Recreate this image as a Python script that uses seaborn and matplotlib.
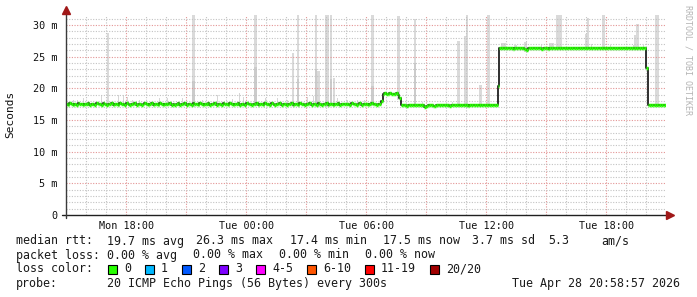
import numpy as np
import pandas as pd
import matplotlib
matplotlib.use("Agg")
import matplotlib.pyplot as plt
import seaborn as sns
from matplotlib.patches import Rectangle

# ---------------- data ----------------
first_sample_h = 14.983          # Mon 14:59 (hours since Mon 00:00)
sample_step_h = 5.0 / 60.0       # 300 s

median_ms = [
    # Mon 15:00 .. Tue 06:45  (~17.5 ms, wiggly)
    17.6, 17.4, 17.7, 17.5, 17.3, 17.6, 17.4, 17.7, 17.5, 17.6, 17.3, 17.6,
    17.5, 17.7, 17.4, 17.6, 17.5, 17.3, 17.7, 17.5, 17.6, 17.4, 17.7, 17.5,
    17.4, 17.6, 17.5, 17.7, 17.3, 17.6, 17.5, 17.4, 17.7, 17.5, 17.6, 17.4,
    17.7, 17.5, 17.3, 17.6, 17.5, 17.7, 17.4, 17.6, 17.5, 17.3, 17.6, 17.7,
    17.5, 17.4, 17.6, 17.7, 17.4, 17.5, 17.6, 17.3, 17.7, 17.5, 17.4, 17.6,
    17.6, 17.5, 17.7, 17.4, 17.6, 17.3, 17.5, 17.7, 17.4, 17.6, 17.5, 17.7,
    17.4, 17.6, 17.5, 17.3, 17.7, 17.5, 17.6, 17.4, 17.7, 17.5, 17.3, 17.6,
    17.5, 17.7, 17.4, 17.6, 17.5, 17.7, 17.3, 17.6, 17.5, 17.4, 17.7, 17.5,
    17.6, 17.4, 17.7, 17.5, 17.3, 17.6, 17.5, 17.7, 17.4, 17.6, 17.5, 17.3,
    17.7, 17.5, 17.6, 17.4, 17.6, 17.5, 17.7, 17.3, 17.6, 17.5, 17.4, 17.7,
    17.5, 17.6, 17.4, 17.7, 17.5, 17.3, 17.6, 17.5, 17.7, 17.4, 17.6, 17.5,
    17.3, 17.6, 17.5, 17.7, 17.4, 17.6, 17.5, 17.3, 17.7, 17.5, 17.6, 17.4,
    17.6, 17.5, 17.7, 17.4, 17.5, 17.6, 17.3, 17.7, 17.5, 17.4, 17.6, 17.5,
    17.7, 17.4, 17.6, 17.5, 17.3, 17.6, 17.5, 17.7, 17.4, 17.6, 17.5, 17.6,
    17.5, 17.6, 17.4, 17.7, 17.5, 17.6, 17.3, 17.5, 17.7, 17.4, 17.6, 17.5,
    17.6, 17.4, 17.5, 17.7, 17.5, 17.6, 17.4, 17.5, 17.5,
    # step up
    18.0,
    19.1, 19.2, 19.1, 19.1, 19.2, 19.1, 19.1, 19.1, 19.2, 19.0,
    18.5,
    # Tue 07:45 .. 12:30 (~17.3 ms)
    17.3, 17.3, 17.3, 17.2, 17.3, 17.3, 17.3, 17.3, 17.3, 17.3, 17.3, 17.3,
    17.3, 17.3, 17.1, 17.2, 17.3, 17.3, 17.3, 17.2, 17.2, 17.3, 17.3, 17.3,
    17.3, 17.3, 17.3, 17.3, 17.3, 17.2, 17.3, 17.3, 17.3, 17.3, 17.3, 17.3,
    17.3, 17.3, 17.3, 17.3, 17.2, 17.3, 17.3, 17.3, 17.3, 17.3, 17.3, 17.3,
    17.3, 17.3, 17.3, 17.3, 17.3, 17.3, 17.3, 17.3, 17.3, 17.3,
    20.4,
    # Tue 12:35 .. 19:55 (~26.3 ms)
    26.3, 26.3, 26.3, 26.3, 26.3, 26.3, 26.3, 26.3, 26.2, 26.3, 26.3, 26.3,
    26.3, 26.3, 26.3, 26.2, 26.1, 26.3, 26.3, 26.3, 26.3, 26.3, 26.3, 26.3,
    26.3, 26.2, 26.3, 26.3, 26.3, 26.2, 26.3, 26.3, 26.3, 26.3, 26.3, 26.3,
    26.3, 26.3, 26.3, 26.3, 26.3, 26.3, 26.3, 26.3, 26.3, 26.3, 26.3, 26.3,
    26.3, 26.3, 26.3, 26.3, 26.3, 26.3, 26.3, 26.3, 26.3, 26.3, 26.3, 26.3,
    26.3, 26.3, 26.3, 26.3, 26.3, 26.3, 26.3, 26.3, 26.3, 26.3, 26.3, 26.3,
    26.3, 26.3, 26.3, 26.3, 26.3, 26.3, 26.3, 26.3, 26.3, 26.3, 26.3, 26.3,
    26.3, 26.3, 26.3, 26.3,
    23.2,
    # Tue 20:05 .. 21:00 (~17.4 ms)
    17.4, 17.4, 17.4, 17.4, 17.4, 17.4, 17.4, 17.4, 17.4, 17.4, 17.4,
]

# tall smoke (ping spread), start hour, end hour, top (ms)
smoke_start = [17.05, 21.30, 24.40, 26.30, 26.55, 27.45, 27.55, 27.95, 28.20, 28.35,
               30.25, 31.55, 32.40, 34.55, 34.90, 35.00, 35.65, 36.05, 36.75, 37.40,
               37.90, 39.15, 39.50, 40.95, 41.05, 41.80, 43.40, 43.50, 44.45]
smoke_end = [17.15, 21.45, 24.55, 26.40, 26.65, 27.55, 27.70, 28.15, 28.30, 28.45,
             30.40, 31.70, 32.50, 34.70, 35.00, 35.10, 35.80, 36.20, 37.00, 37.55,
             38.05, 39.40, 39.80, 41.05, 41.15, 41.95, 43.50, 43.65, 44.65]
smoke_top = [28.7, 31.6, 31.6, 25.6, 31.6, 31.6, 22.7, 31.6, 31.6, 21.6,
             31.6, 31.5, 31.0, 27.4, 28.3, 31.6, 20.5, 31.6, 27.2, 26.8,
             27.3, 27.1, 31.6, 28.6, 31.1, 31.6, 28.5, 30.2, 31.6]

# denser core of the smoke
core_start = [21.30, 24.40, 26.55, 27.45, 28.20, 30.25, 32.40]
core_end = [21.45, 24.55, 26.65, 27.55, 28.30, 30.40, 32.50]
core_top = [21.2, 23.4, 21.5, 23.0, 21.5, 20.4, 24.0]

# small smoke bumps just above the median (centre hour, top ms)
bump_h = [15.35, 15.55, 15.85, 16.75, 17.60, 17.85, 18.05, 18.30, 18.65, 19.65,
          20.05, 20.80, 21.80, 22.55, 23.30, 23.65, 23.85, 24.95, 25.55, 26.05,
          27.05, 27.35, 28.55, 29.05, 29.55, 29.90, 32.80, 34.30, 38.75, 40.10,
          41.25, 42.20, 43.35, 43.85]
bump_top = [18.2, 18.2, 18.4, 19.0, 18.9, 18.9, 18.6, 18.2, 18.2, 18.4,
            18.5, 18.4, 18.2, 19.0, 18.3, 19.2, 18.6, 18.4, 18.4, 18.2,
            18.7, 18.8, 18.5, 18.2, 18.2, 18.2, 17.9, 17.9, 26.9, 26.6,
            27.0, 26.9, 26.9, 26.9]

y_ticks = [0, 5, 10, 15, 20, 25, 30]
y_tick_labels = ["0", "5 m", "10 m", "15 m", "20 m", "25 m", "30 m"]
x_ticks = [18, 24, 30, 36, 42]
x_tick_labels = ["Mon 18:00", "Tue 00:00", "Tue 06:00", "Tue 12:00", "Tue 18:00"]

loss_labels = ["0", "1", "2", "3", "4-5", "6-10", "11-19", "20/20"]
loss_colors = ["#26ff00", "#00b8ff", "#0059ff", "#7e00ff", "#ff00ff",
               "#ff5500", "#ff0000", "#a10000"]

rtt_row = ["19.7 ms avg", "26.3 ms max", "17.4 ms min", "17.5 ms now",
           "3.7 ms sd", "5.3", "am/s"]
loss_row = ["0.00 % avg", "0.00 % max", "0.00 % min", "0.00 % now"]
probe_text = "20 ICMP Echo Pings (56 Bytes) every 300s"
stamp_text = "Tue Apr 28 20:58:57 2026"

# ---------------- figure ----------------
sns.set_style("white")
plt.rcParams["font.family"] = ["DejaVu Sans Mono", "DejaVu Sans"]

W, H = 697, 297
fig = plt.figure(figsize=(W / 100, H / 100), dpi=100)
fig.patch.set_facecolor("white")
ax_left, ax_right, ax_top, ax_bot = 66, 666, 15, 215
ax = fig.add_axes([ax_left / W, 1 - ax_bot / H, (ax_right - ax_left) / W,
                   (ax_bot - ax_top) / H])
ax.set_facecolor("white")

xmin = first_sample_h
xmax = first_sample_h + 30.0
ymax = 31.58
ax.set_xlim(xmin, xmax)
ax.set_ylim(0, ymax)

med = np.array(median_ms)
t = first_sample_h + sample_step_h * np.arange(len(med))


def med_at(h):
    i = int(np.clip(np.floor((h - first_sample_h) / sample_step_h), 0, len(med) - 1))
    return med[i]


# smoke
s0 = np.array(smoke_start)
s1 = np.array(smoke_end)
bots = np.array([min(med_at(a), med_at(b - 1e-3)) - 0.3 for a, b in zip(s0, s1)])
ax.bar(s0, np.array(smoke_top) - bots, width=s1 - s0, bottom=bots, align="edge",
       color="#dadada", linewidth=0, zorder=2)
c0 = np.array(core_start)
c1 = np.array(core_end)
cb = np.array([med_at(a) - 0.3 for a in c0])
ax.bar(c0, np.array(core_top) - cb, width=c1 - c0, bottom=cb, align="edge",
       color="#cbcbcb", linewidth=0, zorder=2.1)
bh = np.array(bump_h)
bb = np.array([med_at(h) - 0.3 for h in bh])
ax.bar(bh - sample_step_h / 2, np.array(bump_top) - bb, width=sample_step_h,
       bottom=bb, align="edge", color="#d6d6d6", linewidth=0, zorder=2)

# grid
minor_col, major_col = "#c2c2c2", "#e39494"
dash = (0, (1.0, 1.4))
for h in range(16, 45):
    ax.axvline(h, color=major_col if h % 3 == 0 else minor_col, lw=0.8,
               ls=dash, zorder=3)
for v in range(1, 32):
    ax.axhline(v, color=major_col if v % 5 == 0 else minor_col, lw=0.8,
               ls=dash, zorder=3)

# median: dark step line + green (0 % loss) segments
df = pd.DataFrame({"h": np.append(t, t[-1] + sample_step_h),
                   "ms": np.append(med, med[-1])})
sns.lineplot(data=df, x="h", y="ms", drawstyle="steps-post", color="#202020",
             lw=1.3, estimator=None, ax=ax, zorder=4)
ax.hlines(med, t, t + sample_step_h, color=loss_colors[0], lw=2.5,
          zorder=5, capstyle="butt")

# axes
for sp in ax.spines.values():
    sp.set_visible(False)
ax.plot([xmin - 0.2, xmax + 0.25], [0, 0], color="#202020", lw=1.0,
        clip_on=False, zorder=6)
ax.plot([xmin, xmin], [-0.4, ymax + 0.6], color="#3a3a3a", lw=1.0,
        clip_on=False, zorder=6)
ax.plot([xmin], [ymax + 0.75], marker="^", ms=5.5, color="#a01818",
        clip_on=False, zorder=7, mec="#a01818")
ax.plot([xmax + 0.2], [0], marker=">", ms=5.5, color="#a01818",
        clip_on=False, zorder=7, mec="#a01818")

ax.set_yticks(y_ticks)
ax.set_yticklabels(y_tick_labels)
ax.set_xticks(x_ticks)
ax.set_xticklabels(x_tick_labels)
ax.tick_params(axis="y", length=0, pad=6, labelsize=7.3, labelcolor="#111111")
ax.tick_params(axis="x", length=0, pad=4.5, labelsize=7.3, labelcolor="#111111")
ax.set_xlabel("")
ax.set_ylabel("")
ax.grid(False)

fig.text(10 / W, 1 - 114 / H, "Seconds", rotation=90, ha="center", va="center",
         fontsize=8.0, color="#111111")
fig.text(688 / W, 1 - 60 / H, "RRDTOOL / TOBI OETIKER", rotation=270,
         ha="center", va="center", fontsize=6.0, color="#b4b4b4")


def ftext(x, y, s, **kw):
    fig.text(x / W, 1 - y / H, s, va="center", fontsize=8.4, color="#1a1a1a", **kw)


cw = 7.0
ftext(16, 241, "median rtt:")
for s, x in zip(rtt_row, [107, 196, 290, 383, 472, 548, 601]):
    ftext(x, 241, s)
ftext(16, 255, "packet loss:")
for s, x in zip(loss_row, [107, 193, 279, 365]):
    ftext(x, 255, s)
ftext(16, 269, "loss color:")
bx = 108
for lab, col in zip(loss_labels, loss_colors):
    fig.patches.append(Rectangle((bx / W, 1 - 273.5 / H), 8.5 / W, 8.5 / H,
                                 transform=fig.transFigure, facecolor=col,
                                 edgecolor="#000000", lw=0.8))
    ftext(bx + 16, 269, lab)
    bx = bx + 16 + len(lab) * cw + 14
ftext(16, 283, "probe:")
ftext(107, 283, probe_text)
ftext(680, 283, stamp_text, ha="right")

fig.savefig("out.png", dpi=100, facecolor="white")
